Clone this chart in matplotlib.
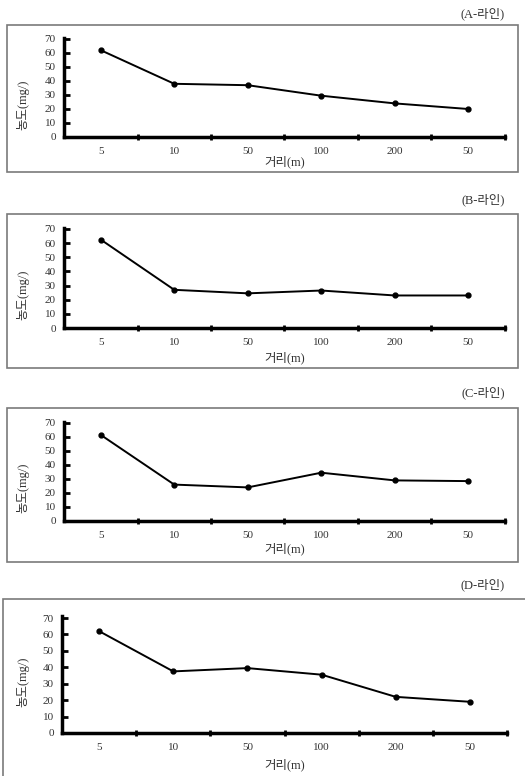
import matplotlib.pyplot as plt
from matplotlib.patches import Rectangle

plt.rcParams["font.family"] = ["Liberation Serif", "Noto Sans CJK KR"]

distances = ["5", "10", "50", "100", "200", "50"]
line_names = ["(A-라인)", "(B-라인)", "(C-라인)", "(D-라인)"]
conc_a = [62, 38, 37, 29.5, 24, 20]
conc_b = [62.5, 27, 24.5, 26.5, 23, 23]
conc_c = [61.5, 26, 24, 34.5, 29, 28.5]
conc_d = [62, 37.5, 39.5, 35.5, 22, 19]
series = [conc_a, conc_b, conc_c, conc_d]
y_ticks = [0, 10, 20, 30, 40, 50, 60, 70]

W, H = 525, 776
fig = plt.figure(figsize=(W / 100, H / 100), dpi=100)

# pixel layout per panel: box (x0, y0, x1, y1), axes (left, y70, right, y0), title y, xlabel y, ylabel y
panels = [
    dict(box=(7, 25, 518, 172), ax=(64, 39, 505, 137), title=14, xlab=162, ylab=105),
    dict(box=(7, 214, 518, 368), ax=(64, 229, 505, 328), title=200, xlab=358, ylab=295),
    dict(box=(7, 408, 518, 562), ax=(64, 423, 505, 521), title=393, xlab=549, ylab=488),
    dict(box=(3, 599, 530, 790), ax=(62, 618, 507, 733), title=585, xlab=765, ylab=682),
]

text_color = "#333333"

for p, vals, name in zip(panels, series, line_names):
    bx0, by0, bx1, by1 = p["box"]
    fig.patches.append(Rectangle((bx0 / W, 1 - by1 / H), (bx1 - bx0) / W, (by1 - by0) / H,
                                 transform=fig.transFigure, fill=False,
                                 edgecolor="#7a7a7a", linewidth=1.2))
    fig.text(483 / W, 1 - p["title"] / H, name, ha="center", va="center",
             fontsize=9, color=text_color)

    l, t, r, b = p["ax"]
    ax = fig.add_axes([l / W, 1 - b / H, (r - l) / W, (b - t) / H])
    x = [i + 0.5 for i in range(len(vals))]
    ax.plot(x, vals, color="black", linewidth=1.4, marker="o", markersize=3.5)

    ax.set_xlim(0, 6)
    ax.set_ylim(0, 70)
    for s in ["top", "right"]:
        ax.spines[s].set_visible(False)
    for s in ["left", "bottom"]:
        ax.spines[s].set_linewidth(2.5)
        ax.spines[s].set_color("black")
    ax.spines["left"].set_bounds(0, 71)

    ax.set_yticks(y_ticks)
    ax.tick_params(axis="y", direction="in", length=4, width=2, labelsize=8,
                   labelcolor=text_color, pad=6)
    ax.set_xticks(x)
    ax.set_xticklabels(distances)
    ax.set_xticks(range(1, 7), minor=True)
    ax.tick_params(axis="x", which="major", length=0, labelsize=8,
                   labelcolor=text_color, pad=7)
    ax.tick_params(axis="x", which="minor", direction="inout", length=4, width=2)
    ax.set_clip_on(False)

    fig.text((l + r) / 2 / W, 1 - p["xlab"] / H, "거리(m)", ha="center", va="center",
             fontsize=9, color=text_color)
    fig.text(23 / W, 1 - p["ylab"] / H, "농도(mg/)", ha="center", va="center",
             rotation=90, fontsize=9, color=text_color)

fig.savefig("out.png", dpi=100)
